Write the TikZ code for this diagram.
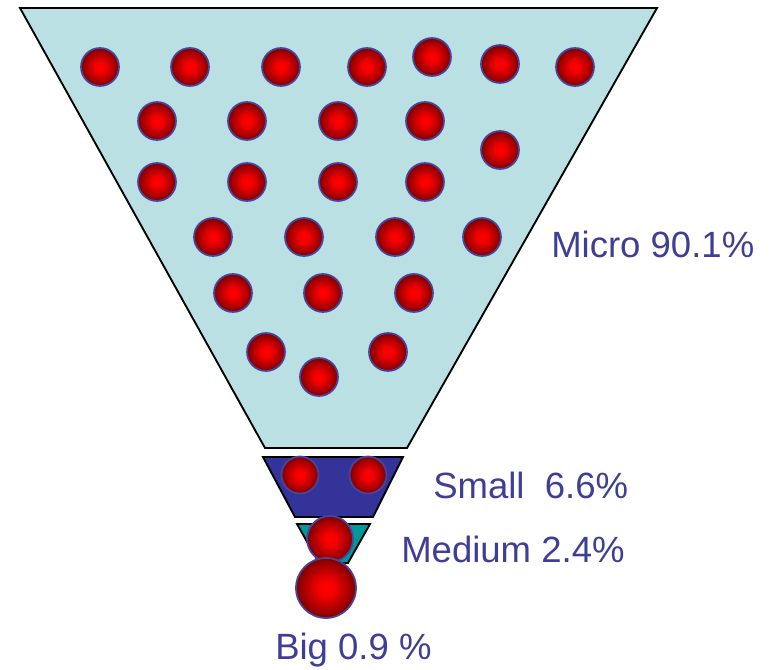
\documentclass[tikz,border=0pt]{standalone}
\usepackage{fontspec}
\setmainfont{Liberation Sans}
\usetikzlibrary{positioning}

\definecolor{funnelcyan}{RGB}{187,224,227}
\definecolor{smallblue}{RGB}{51,51,153}
\definecolor{mediumteal}{RGB}{0,153,153}
\definecolor{sharetext}{RGB}{62,62,148}
\definecolor{ballrim}{RGB}{70,70,160}

% 小球的径向渐变
\pgfdeclareradialshading{redball}{\pgfpoint{0bp}{0bp}}{%
    color(0bp)=(red); color(7bp)=(red!95!black);
    color(25bp)=(red!50!black); color(50bp)=(red!50!black)}

\begin{document}
\begin{tikzpicture}[x=0.75pt, y=-0.75pt,
    funnel/.style={draw=black, line width=1.4pt, line join=miter},
    ball/.style={draw=ballrim, line width=1.3pt, shading=redball},
    share/.style={anchor=base west, inner sep=0pt, text=sharetext,
        font=\fontsize{27.4}{32}\selectfont}]
    \useasboundingbox (0,0) rectangle (776,670);

    % 漏斗主体 (Micro)
    \draw[funnel, fill=funnelcyan] (20,8) -- (657,8) -- (407,448) -- (265,448) -- cycle;

    % Small 段
    \draw[funnel, fill=smallblue] (263,457) -- (403,457) -- (373,517) -- (295,517) -- cycle;

    % Medium 段
    \draw[funnel, fill=mediumteal] (297,524) -- (370,524) -- (348,563) -- (319,563) -- cycle;

    % Micro 企业的小球
    \foreach \x/\y in {100/67, 190/67, 281/67, 367/67, 432/57, 500/64, 575/67,
                       157/121, 247/121, 338/121, 425/121, 500/150,
                       157/182, 247/182, 338/182, 425/182,
                       213/237, 304/237, 395/237, 482/237,
                       233/293, 323/293, 414/293,
                       266/352, 319/377, 388/352} {
        \shade[ball] (\x,\y) circle (19);
    }

    % Small 企业的小球
    \foreach \x in {300, 368} {
        \shade[ball] (\x,475) circle (18.5);
    }

    % Medium 与 Big
    \shade[ball] (330,539) circle (23);
    \shade[ball] (326,588) circle (30);

    % 百分比标注
    \node[share] (micro)  at (551,258) {Micro 90.1\%};
    \node[share] (small)  at (433,499) {Small\ \ 6.6\%};
    \node[share] (medium) at (401,563) {Medium 2.4\%};
    \node[share] (big)    at (275,660) {Big 0.9 \%};
\end{tikzpicture}
\end{document}
